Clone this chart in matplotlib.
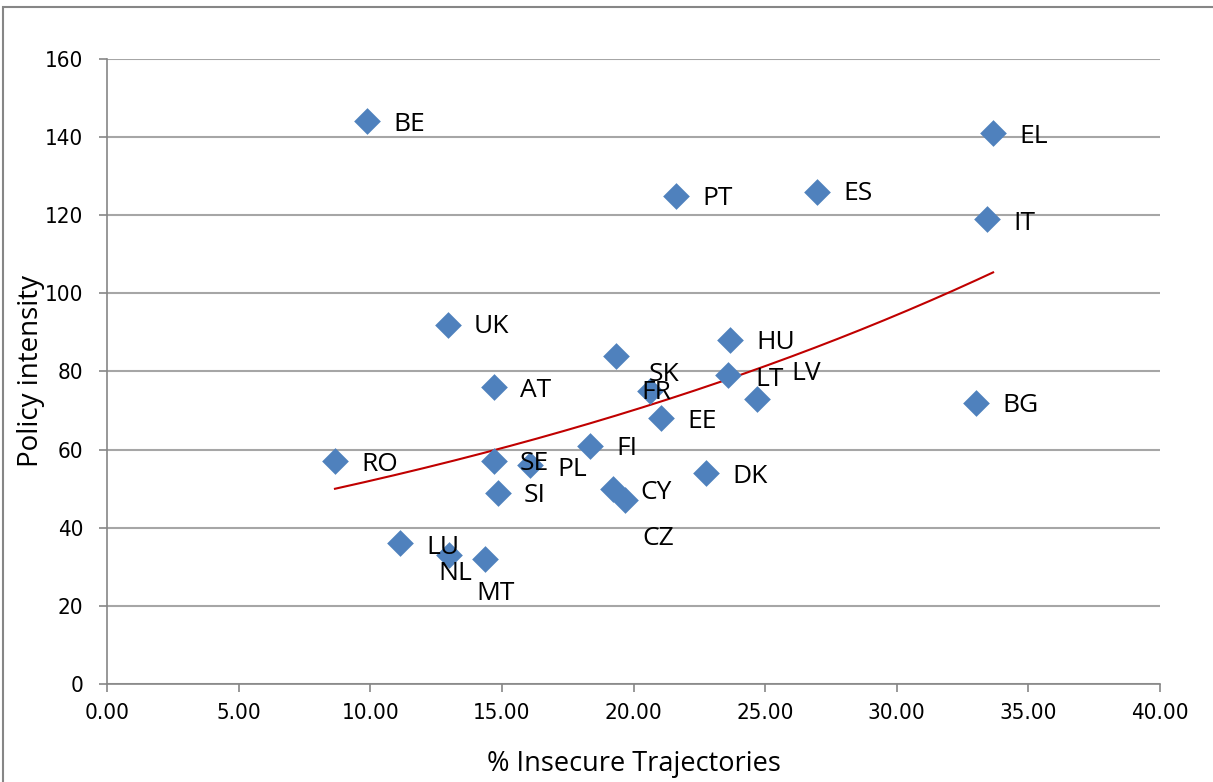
import numpy as np
import matplotlib
matplotlib.use("Agg")
import matplotlib.pyplot as plt
from matplotlib.patches import Rectangle

countries = ["BE", "EL", "PT", "ES", "IT", "UK", "HU", "SK", "FR", "LT", "LV", "AT",
             "EE", "BG", "FI", "RO", "SE", "PL", "SI", "CY", "CZ", "DK", "LU", "NL", "MT"]
insecure = [9.88, 33.66, 21.61, 26.97, 33.43, 12.95, 23.67, 19.33, 20.63, 23.59, 24.69, 14.70,
            21.04, 33.01, 18.35, 8.66, 14.70, 16.07, 14.85, 19.22, 19.68, 22.75, 11.13, 12.99, 14.36]
policy = [144, 141, 125, 126, 119, 92, 88, 84, 75, 79, 73, 76,
          68, 72, 61, 57, 57, 56, 49, 50, 47, 54, 36, 33, 32]

# label offsets in pixels (style only)
offsets = {
    "BE": (26, -1), "EL": (26, -1), "PT": (26, -1), "ES": (26, 0), "IT": (26, -2),
    "UK": (26, 0), "HU": (26, 0), "SK": (33, -17), "FR": (-9, 1), "LT": (27, -2),
    "LV": (34, 27), "AT": (26, -1), "EE": (26, -1), "BG": (26, -1), "FI": (26, -1),
    "RO": (26, -1), "SE": (26, 0), "PL": (27, -2), "SI": (26, -1), "CY": (27, -2),
    "CZ": (17, -36), "DK": (26, -1), "LU": (26, -2), "NL": (-11, -16), "MT": (-9, -32),
}

fig = plt.figure(figsize=(12.13, 7.82), dpi=100)
ax = fig.add_axes([107/1213, 1-684/782, (1160-107)/1213, (684-59)/782])

ax.set_xlim(0, 40)
ax.set_ylim(0, 160)
ax.set_xticks(np.arange(0, 40.1, 5))
ax.set_yticks(np.arange(0, 161, 20))
ax.set_xticklabels([f"{v:.2f}" for v in np.arange(0, 40.1, 5)])
ax.grid(axis="y", color="#A6A6A6", linewidth=1.5)
ax.set_axisbelow(True)
for s in ["top", "right"]:
    ax.spines[s].set_visible(False)
for s in ["left", "bottom"]:
    ax.spines[s].set_color("#868686")
    ax.spines[s].set_linewidth(1.2)
ax.tick_params(axis="both", direction="out", length=6, color="#868686", width=1.2,
               labelsize=16)
ax.tick_params(axis="x", pad=8)
ax.tick_params(axis="y", pad=11)
for lab in ax.get_xticklabels() + ax.get_yticklabels():
    lab.set_fontfamily("DejaVu Sans")
    lab.set_fontstretch("condensed")

ax.scatter(insecure, policy, marker="D", s=185, color="#4F81BD", zorder=3, linewidths=0)

# exponential trendline fitted to the data
xa = np.array(insecure); ya = np.array(policy)
b, lna = np.polyfit(xa, np.log(ya), 1)
xt = np.linspace(xa.min(), xa.max(), 200)
ax.plot(xt, np.exp(lna) * np.exp(b * xt), color="#C00000", linewidth=1.5, zorder=2)

for c, x, y in zip(countries, insecure, policy):
    dx, dy = offsets[c]
    ax.annotate(c, (x, y), xytext=(dx * 0.72, (dy - 2) * 0.72), textcoords="offset points",
                fontsize=19, family="Open Sans", va="center", ha="left", zorder=4)

ax.set_xlabel("% Insecure Trajectories", fontsize=19.5, family="Open Sans", labelpad=19)
ax.set_ylabel("Policy intensity", fontsize=20, family="Open Sans")
ax.yaxis.set_label_coords(-62/1053, 0.5)

fig.patches.append(Rectangle((3/1213, -0.1), 1.2, 1 - 7/782 + 0.1, transform=fig.transFigure,
                             fill=False, edgecolor="#868686", linewidth=1.5))

fig.savefig("out.png", dpi=100)
